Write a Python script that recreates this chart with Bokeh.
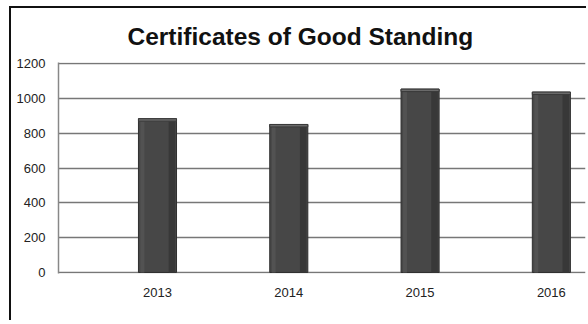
from bokeh.plotting import figure
from bokeh.models import Range1d, FixedTicker, Title
from bokeh.transform import dodge
from bokeh.models import ColumnDataSource
from bokeh.embed import file_html
from bokeh.resources import INLINE

years = ["2013", "2014", "2015", "2016"]
counts = [883, 850, 1053, 1036]
y_ticks = [0, 200, 400, 600, 800, 1000, 1200]

xs = list(range(len(years)))
src = ColumnDataSource(dict(x=xs, top=counts, cap=[c - 14 for c in counts]))

p = figure(width=577, height=314, output_backend="svg", toolbar_location=None,
           x_range=Range1d(-0.754, 3.26), y_range=Range1d(-6, 1206),
           min_border_left=47, min_border_right=3, min_border_top=51, min_border_bottom=49,
           styles={"border-top": "2px solid #111", "border-left": "2px solid #111",
                   "margin-top": "6px", "margin-left": "9px"})

p.background_fill_color = "white"
p.border_fill_color = "white"
p.outline_line_color = None

# bars
p.vbar(x="x", top="top", width=0.29, source=src, fill_color="#474747",
       line_color="#2f2f2f", line_width=1)
p.vbar(x=dodge("x", 0.11, range=p.x_range), top="top", width=0.05, source=src,
       fill_color="#383838", line_color=None)
p.vbar(x=dodge("x", -0.115, range=p.x_range), top="top", width=0.03, source=src,
       fill_color="#525252", line_color=None)
p.vbar(x="x", top="top", bottom="cap", width=0.29, source=src, fill_color="#6a6a6a",
       line_color="#3a3a3a", line_width=1)

# axes
p.yaxis.ticker = FixedTicker(ticks=y_ticks)
p.yaxis.axis_line_color = "#888888"
p.yaxis.axis_line_width = 1.5
p.yaxis.major_tick_line_color = None
p.yaxis.major_tick_out = 0
p.yaxis.major_tick_in = 0
p.yaxis.minor_tick_line_color = None
p.yaxis.major_label_text_font = "Liberation Sans"
p.yaxis.major_label_text_font_size = "13px"
p.yaxis.major_label_text_color = "#222222"
p.yaxis.major_label_standoff = 13

p.xaxis.ticker = FixedTicker(ticks=xs)
p.xaxis.major_label_overrides = {i: y for i, y in enumerate(years)}
p.xaxis.axis_line_color = None
p.xaxis.major_tick_line_color = None
p.xaxis.major_tick_out = 0
p.xaxis.major_tick_in = 0
p.xaxis.minor_tick_line_color = None
p.xaxis.major_label_text_font = "Liberation Sans"
p.xaxis.major_label_text_font_size = "13px"
p.xaxis.major_label_text_color = "#222222"
p.xaxis.major_label_standoff = 14

p.xgrid.grid_line_color = None
p.ygrid.ticker = FixedTicker(ticks=y_ticks)
p.ygrid.grid_line_color = "#777777"
p.ygrid.grid_line_width = 1.5
p.ygrid.level = "underlay"

p.title = Title(text="Certificates of Good Standing", align="left", offset=69,
                text_font="Liberation Sans", text_font_size="24.5px", text_font_style="bold",
                text_color="#111111", standoff=25)

open("out.html", "w").write(file_html(p, INLINE))
